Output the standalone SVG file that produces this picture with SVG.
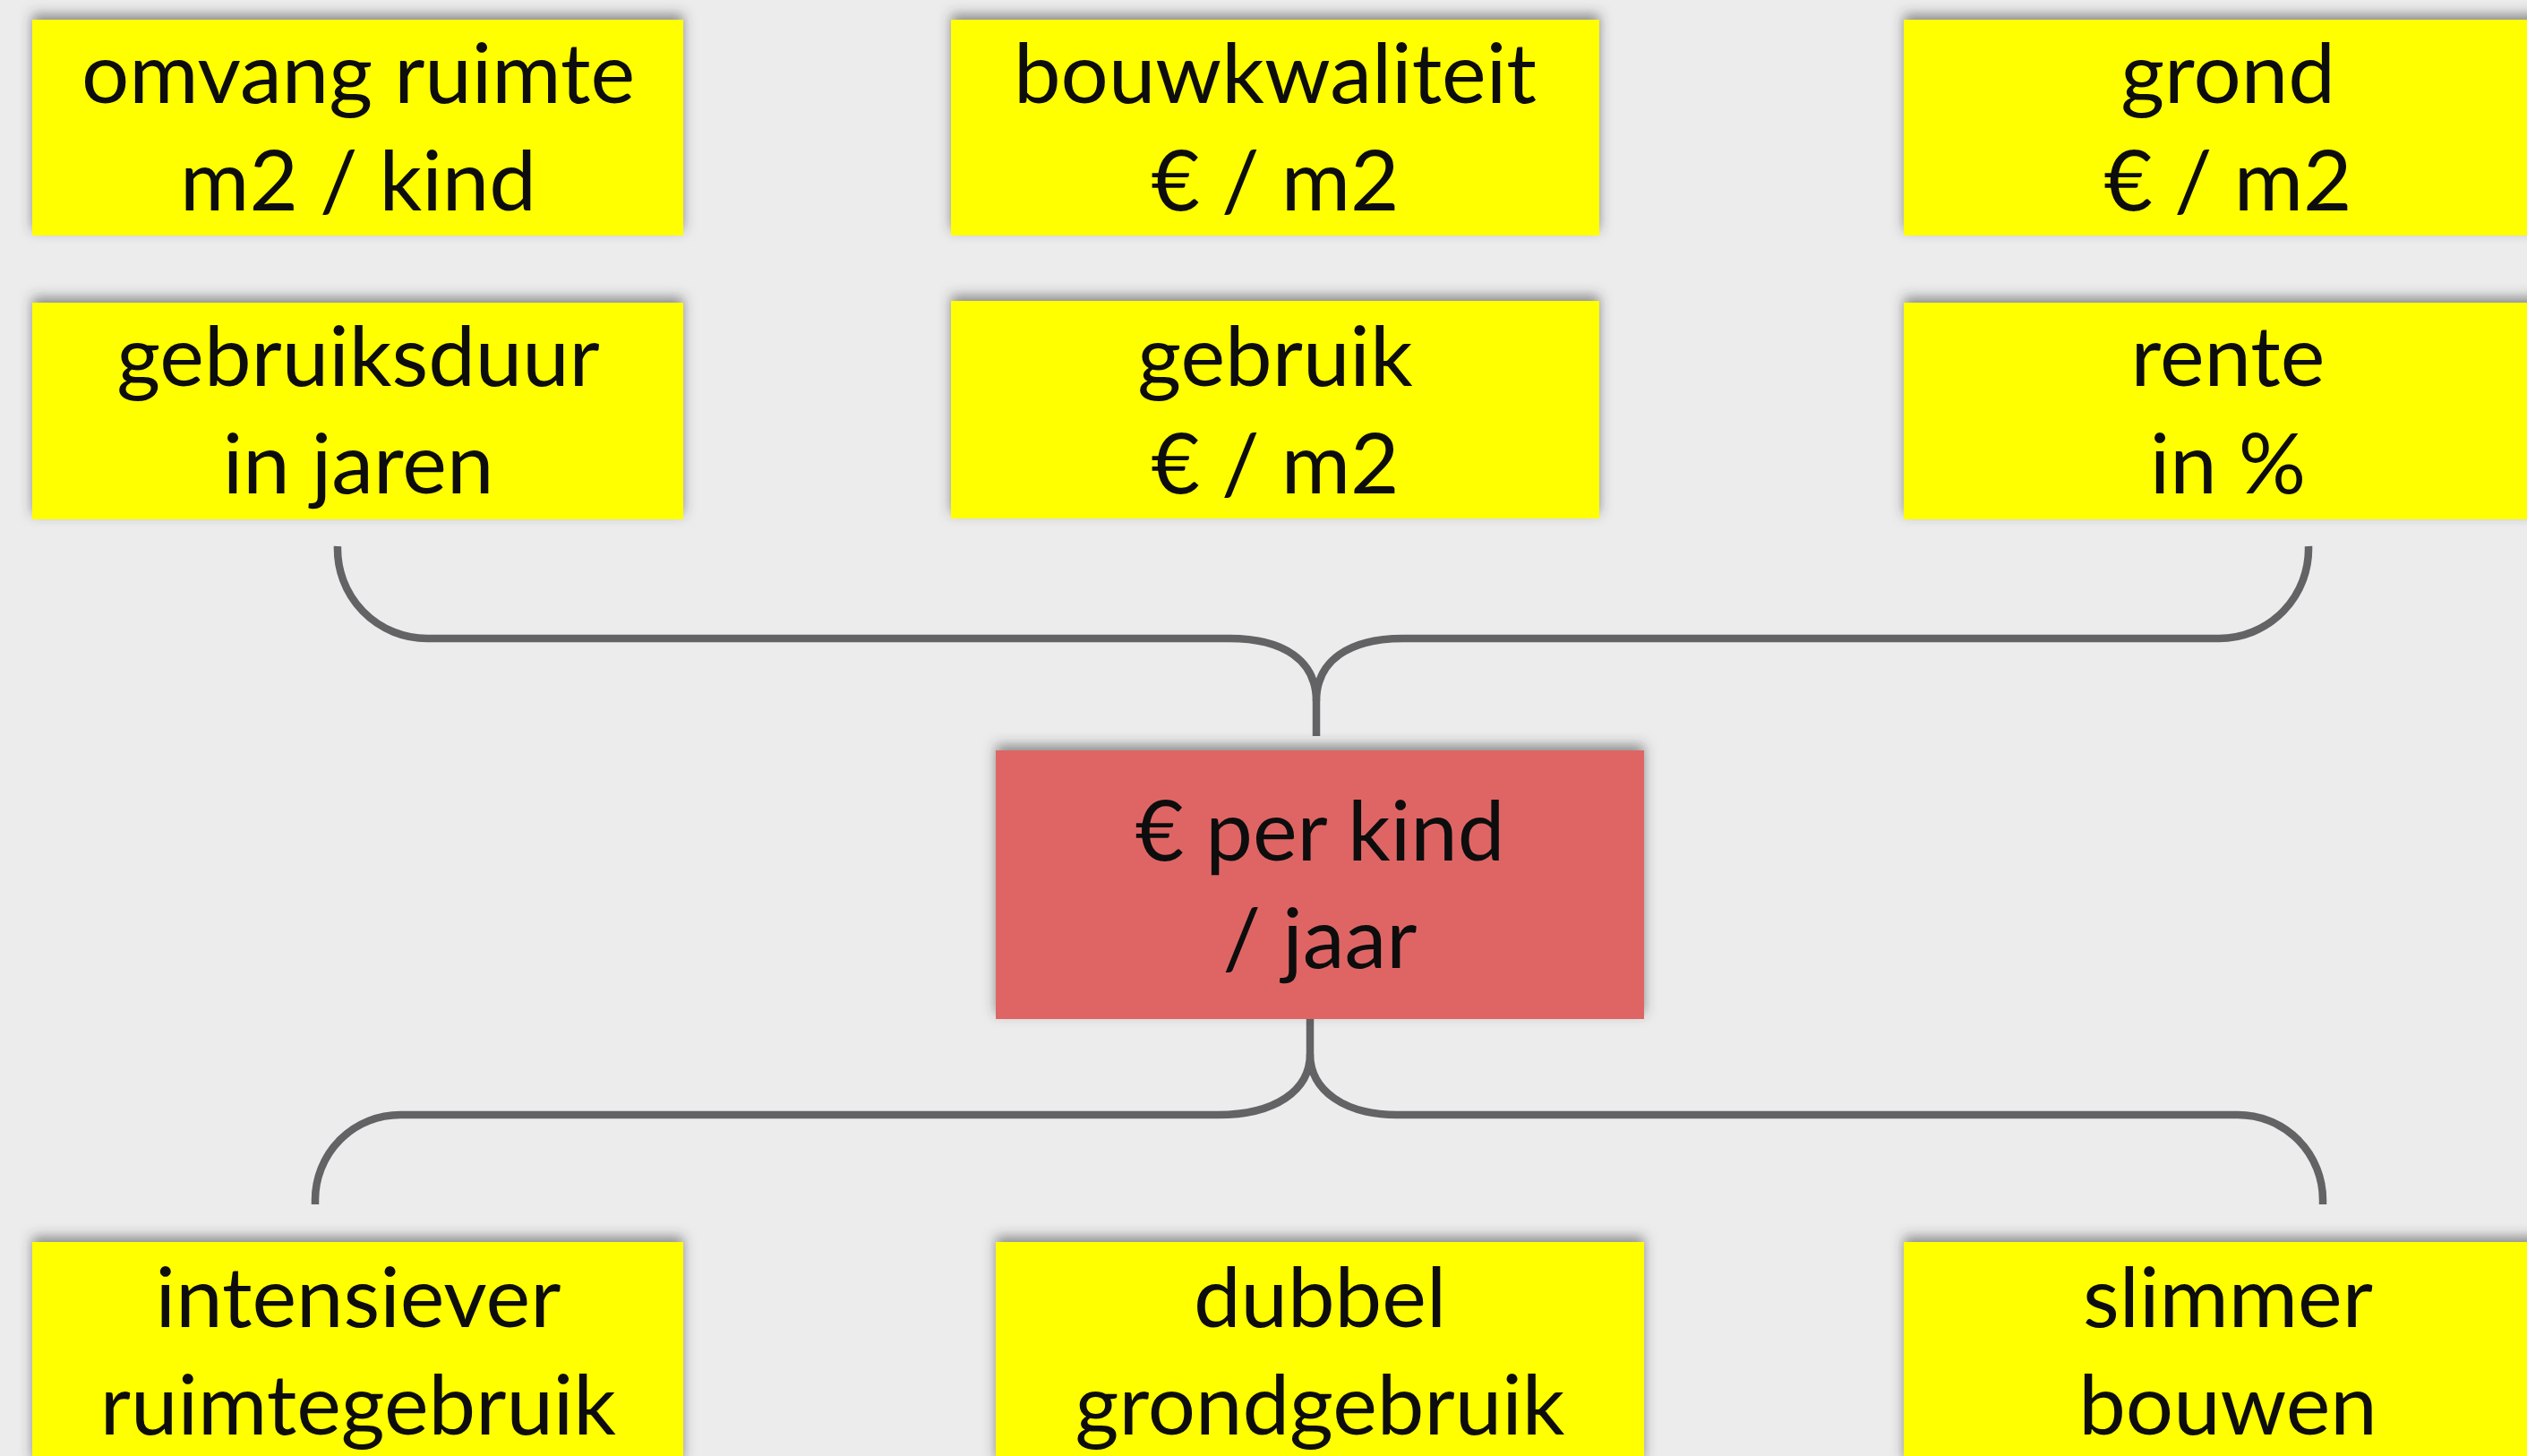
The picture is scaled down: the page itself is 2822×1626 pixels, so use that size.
<svg xmlns="http://www.w3.org/2000/svg" width="2822" height="1626" viewBox="0 0 2822 1626">
  <defs>
    <filter id="sh" x="-5%" y="-15%" width="110%" height="130%">
      <feDropShadow dx="0" dy="-6" stdDeviation="7" flood-color="#3a3a3a" flood-opacity="0.55"/>
    </filter>
    <style>
      .y { fill: #ffff00; filter: url(#sh); }
      .r { fill: #df6565; filter: url(#sh); }
      .t { font-family: Lato, "Open Sans", "Liberation Sans", sans-serif; font-size: 94px; fill: #0d0d0d; text-anchor: middle; }
      .c { fill: none; stroke: #636365; stroke-width: 8.5; stroke-linejoin: round; }
    </style>
  </defs>
  <rect width="2822" height="1626" fill="#ececec"/>

  <g id="connectors">
    <path class="c" d="M377 610 A100 100 0 0 0 477 713 H1373 C1434 713 1470 738 1470 783 L1470 822"/>
    <path class="c" d="M1470 783 C1470 738 1506 713 1567 713 H2478 A100 100 0 0 0 2578 610"/>
    <path class="c" d="M1463 1138 L1463 1177 C1463 1218 1424 1245 1360 1245 H447 A95 95 0 0 0 352 1340 L352 1345"/>
    <path class="c" d="M1463 1177 C1463 1218 1502 1245 1560 1245 H2499 A95 95 0 0 1 2594 1340 L2594 1345"/>
  </g>

  <g id="omvang-ruimte">
    <rect class="y" x="36" y="22" width="727" height="241"/>
    <text class="t" x="400" y="115">omvang ruimte</text>
    <text class="t" x="400" y="235">m2 / kind</text>
  </g>
  <g id="bouwkwaliteit">
    <rect class="y" x="1062" y="22" width="724" height="241"/>
    <text class="t" x="1424" y="115">bouwkwaliteit</text>
    <text class="t" x="1424" y="235">€ / m2</text>
  </g>
  <g id="grond">
    <rect class="y" x="2126" y="22" width="727" height="241"/>
    <text class="t" x="2488" y="115">grond</text>
    <text class="t" x="2488" y="235">€ / m2</text>
  </g>
  <g id="gebruiksduur">
    <rect class="y" x="36" y="338" width="727" height="242"/>
    <text class="t" x="400" y="431">gebruiksduur</text>
    <text class="t" x="400" y="551">in jaren</text>
  </g>
  <g id="gebruik">
    <rect class="y" x="1062" y="336" width="724" height="243"/>
    <text class="t" x="1424" y="431">gebruik</text>
    <text class="t" x="1424" y="551">€ / m2</text>
  </g>
  <g id="rente">
    <rect class="y" x="2126" y="338" width="727" height="242"/>
    <text class="t" x="2488" y="431">rente</text>
    <text class="t" x="2488" y="551">in %</text>
  </g>
  <g id="per-kind">
    <rect class="r" x="1112" y="838" width="724" height="300"/>
    <text class="t" x="1474" y="961">€ per kind</text>
    <text class="t" x="1474" y="1081">/ jaar</text>
  </g>
  <g id="intensiever">
    <rect class="y" x="36" y="1387" width="727" height="250"/>
    <text class="t" x="400" y="1482">intensiever</text>
    <text class="t" x="400" y="1602">ruimtegebruik</text>
  </g>
  <g id="dubbel">
    <rect class="y" x="1112" y="1387" width="724" height="250"/>
    <text class="t" x="1474" y="1482">dubbel</text>
    <text class="t" x="1474" y="1602">grondgebruik</text>
  </g>
  <g id="slimmer">
    <rect class="y" x="2126" y="1387" width="727" height="250"/>
    <text class="t" x="2488" y="1482">slimmer</text>
    <text class="t" x="2488" y="1602">bouwen</text>
  </g>
</svg>
